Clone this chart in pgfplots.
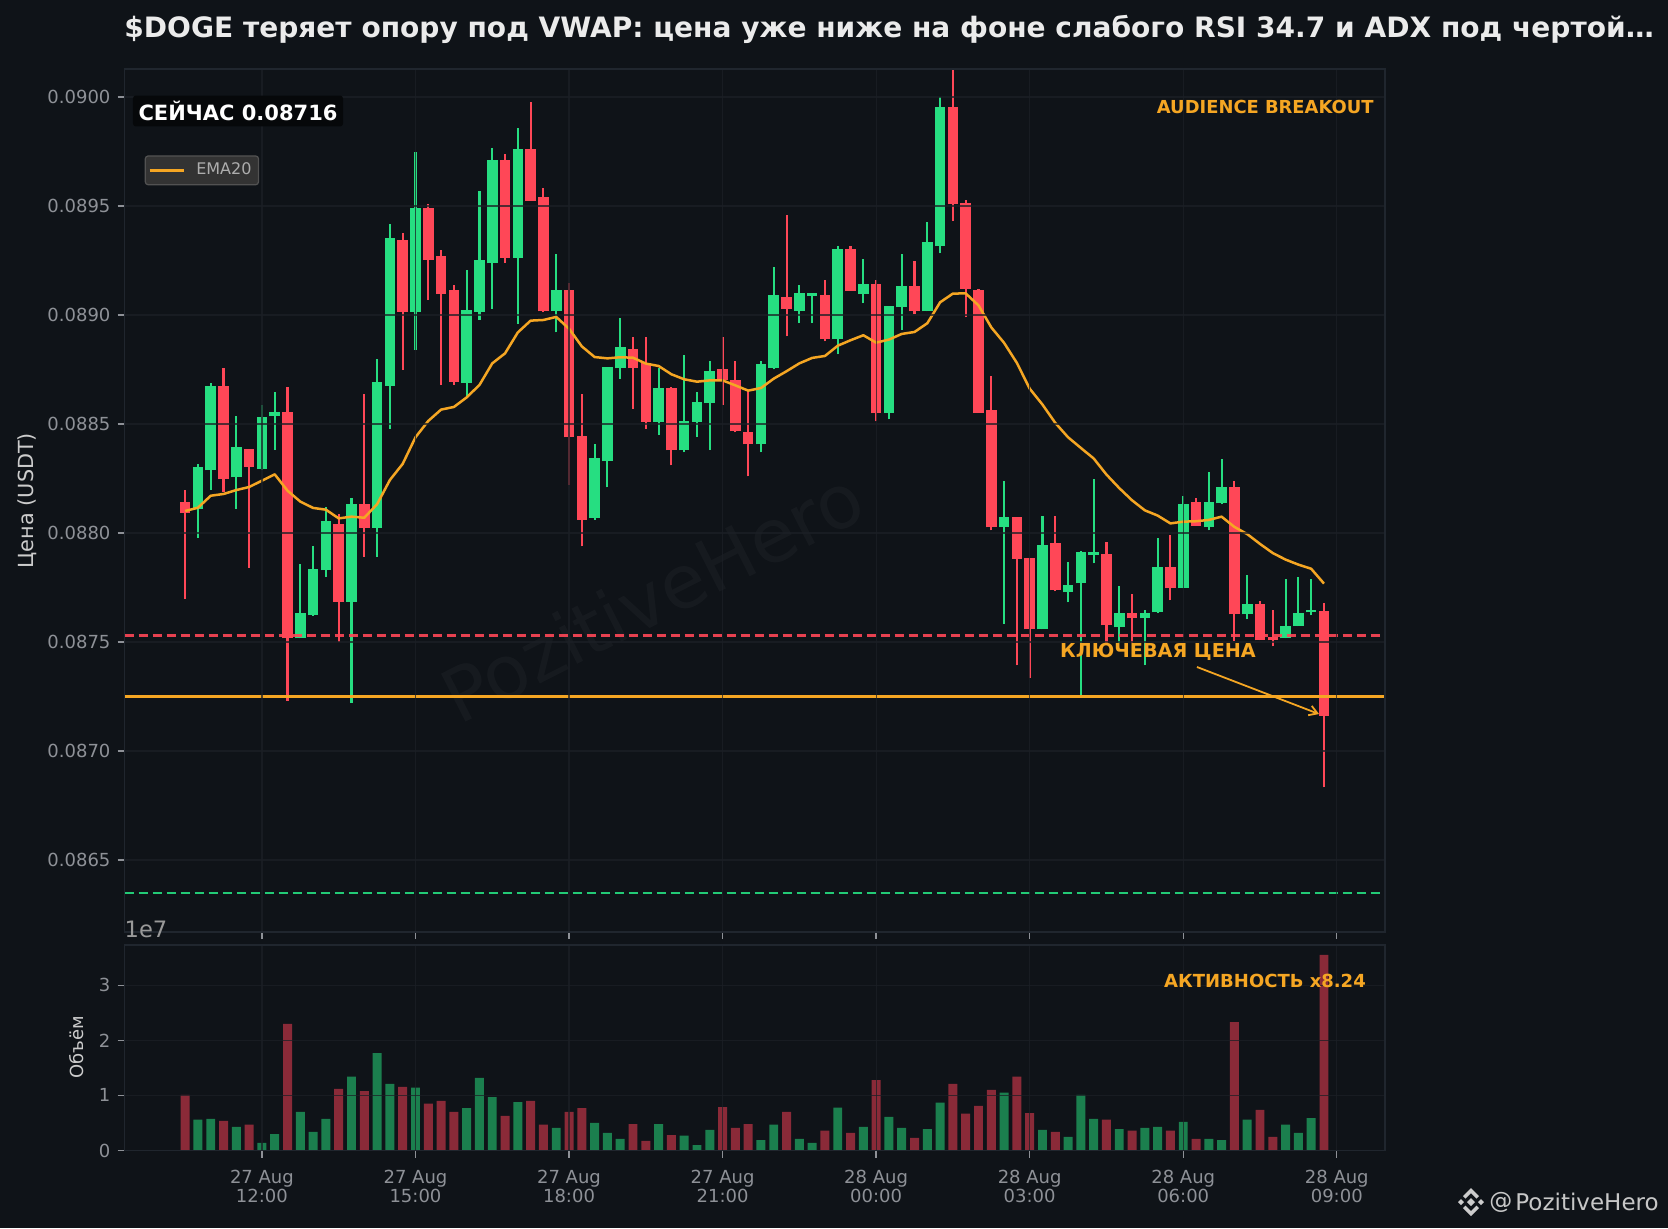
\documentclass[border=0pt]{standalone}
\usepackage{fontspec}
\setmainfont{DejaVu Sans}
\usepackage{pgfplots}
\usepackage{pgfplotstable}
\pgfplotsset{compat=1.18}
\usetikzlibrary{arrows.meta}
\definecolor{bgc}{HTML}{0F1318}
\definecolor{gridc}{HTML}{1C2026}
\definecolor{framec}{HTML}{20262E}
\definecolor{tickc}{HTML}{8E9197}
\definecolor{upc}{HTML}{26DE81}
\definecolor{dnc}{HTML}{FF4757}
\definecolor{orc}{HTML}{F5A623}
\definecolor{upv}{HTML}{1B7F4E}
\definecolor{dnv}{HTML}{8A2A38}
\pgfplotstableread{
i top bot high low v
1 0.088301 0.088109 0.088317 0.087979 0.56
2 0.088673 0.088287 0.088687 0.088197 0.575
4 0.088393 0.088255 0.088535 0.088112 0.43
6 0.088531 0.088294 0.088586 0.088290 0.14
7 0.088554 0.088535 0.088645 0.088382 0.30
9 0.087632 0.087517 0.087856 0.087517 0.70
10 0.087833 0.087625 0.087939 0.087621 0.34
11 0.088054 0.087829 0.088118 0.087798 0.575
13 0.088132 0.087685 0.088159 0.087222 1.34
15 0.088691 0.088024 0.088797 0.087891 1.77
16 0.089352 0.088676 0.089417 0.088477 1.21
18 0.089489 0.089015 0.089746 0.088841 1.14
22 0.089021 0.088687 0.089205 0.088625 0.77
23 0.089251 0.089015 0.089567 0.088977 1.32
24 0.089709 0.089237 0.089765 0.089028 0.97
26 0.089760 0.089263 0.089856 0.088959 0.88
29 0.089115 0.089017 0.089280 0.088920 0.41
32 0.088344 0.088069 0.088408 0.088061 0.50
33 0.088761 0.088329 0.088761 0.088209 0.32
34 0.088853 0.088755 0.088986 0.088708 0.21
37 0.088665 0.088508 0.088757 0.088451 0.48
39 0.088514 0.088379 0.088817 0.088370 0.27
40 0.088601 0.088508 0.088647 0.088442 0.10
41 0.088743 0.088595 0.088789 0.088382 0.375
45 0.088775 0.088407 0.088789 0.088370 0.19
46 0.089092 0.088755 0.089220 0.088751 0.47
48 0.089101 0.089018 0.089138 0.088962 0.21
49 0.089101 0.089086 0.089101 0.088962 0.14
51 0.089303 0.088888 0.089316 0.088820 0.78
53 0.089142 0.089095 0.089257 0.089054 0.43
55 0.089040 0.088549 0.089040 0.088521 0.61
56 0.089133 0.089035 0.089280 0.088930 0.41
58 0.089335 0.089017 0.089427 0.089017 0.39
59 0.089954 0.089315 0.090000 0.089283 0.87
64 0.088073 0.088026 0.088239 0.087583 1.05
67 0.087945 0.087558 0.088078 0.087558 0.375
69 0.087760 0.087728 0.087867 0.087682 0.25
70 0.087913 0.087769 0.087916 0.087248 1.01
71 0.087913 0.087899 0.088248 0.087861 0.575
73 0.087633 0.087567 0.087757 0.087495 0.39
75 0.087633 0.087609 0.087647 0.087393 0.41
76 0.087844 0.087636 0.087977 0.087632 0.43
78 0.088133 0.087746 0.088170 0.087746 0.52
80 0.088142 0.088026 0.088280 0.088012 0.21
81 0.088211 0.088136 0.088339 0.088131 0.19
83 0.087674 0.087627 0.087807 0.087604 0.56
86 0.087573 0.087517 0.087789 0.087517 0.47
87 0.087633 0.087575 0.087798 0.087572 0.32
88 0.087647 0.087636 0.087789 0.087622 0.59
}\uptable
\pgfplotstableread{
i top bot high low v
0 0.088141 0.088093 0.088197 0.087699 1.01
3 0.088673 0.088246 0.088755 0.088188 0.54
5 0.088384 0.088304 0.088384 0.087841 0.47
8 0.088554 0.087517 0.088668 0.087231 2.30
12 0.088040 0.087685 0.088086 0.087502 1.12
14 0.088132 0.088024 0.088636 0.087891 1.08
17 0.089342 0.089015 0.089375 0.088748 1.155
19 0.089489 0.089254 0.089508 0.089069 0.85
20 0.089269 0.089095 0.089297 0.088679 0.90
21 0.089113 0.088694 0.089136 0.088679 0.70
25 0.089709 0.089263 0.089737 0.089240 0.63
27 0.089760 0.089524 0.089978 0.089524 0.90
28 0.089539 0.089017 0.089583 0.089012 0.47
30 0.089115 0.088439 0.089147 0.088222 0.70
31 0.088445 0.088061 0.088638 0.087939 0.77
35 0.088844 0.088755 0.088899 0.088570 0.48
36 0.088780 0.088508 0.088899 0.088479 0.175
38 0.088665 0.088379 0.088670 0.088310 0.28
42 0.088752 0.088702 0.088899 0.088589 0.79
43 0.088702 0.088466 0.088789 0.088462 0.41
44 0.088463 0.088407 0.088658 0.088260 0.48
47 0.089083 0.089026 0.089459 0.088902 0.70
50 0.089092 0.088888 0.089161 0.088879 0.36
52 0.089303 0.089109 0.089316 0.089109 0.32
54 0.089142 0.088549 0.089161 0.088512 1.28
57 0.089133 0.089017 0.089248 0.089003 0.23
60 0.089954 0.089508 0.090126 0.089430 1.21
61 0.089512 0.089118 0.089527 0.088989 0.67
62 0.089115 0.088550 0.089119 0.088550 0.81
63 0.088564 0.088026 0.088720 0.088012 1.10
65 0.088073 0.087881 0.088073 0.087393 1.34
66 0.087885 0.087558 0.087885 0.087333 0.68
68 0.087954 0.087737 0.088078 0.087732 0.34
72 0.087904 0.087576 0.087959 0.087495 0.56
74 0.087633 0.087609 0.087720 0.087495 0.36
77 0.087844 0.087746 0.087991 0.087691 0.36
79 0.088142 0.088034 0.088161 0.088031 0.21
82 0.088211 0.087627 0.088239 0.087503 2.33
84 0.087674 0.087508 0.087687 0.087508 0.74
85 0.087523 0.087508 0.087647 0.087480 0.25
89 0.087642 0.087161 0.087679 0.086833 3.55
}\dntable
\pgfplotstableread{
i e
0 0.088101
1 0.088116
2 0.088171
3 0.088179
4 0.088197
5 0.088211
6 0.088240
7 0.088269
8 0.088194
9 0.088144
10 0.088115
11 0.088107
12 0.088067
13 0.088075
14 0.088070
15 0.088132
16 0.088243
17 0.088317
18 0.088439
19 0.088514
20 0.088566
21 0.088578
22 0.088622
23 0.088679
24 0.088778
25 0.088824
26 0.088920
27 0.088974
28 0.088977
29 0.088991
30 0.088937
31 0.088856
32 0.088807
33 0.088801
34 0.088806
35 0.088804
36 0.088777
37 0.088766
38 0.088728
39 0.088705
40 0.088694
41 0.088700
42 0.088700
43 0.088677
44 0.088653
45 0.088665
46 0.088708
47 0.088742
48 0.088778
49 0.088803
50 0.088812
51 0.088859
52 0.088884
53 0.088907
54 0.088873
55 0.088887
56 0.088913
57 0.088922
58 0.088962
59 0.089058
60 0.089098
61 0.089099
62 0.089044
63 0.088943
64 0.088872
65 0.088780
66 0.088662
67 0.088589
68 0.088505
69 0.088439
70 0.088390
71 0.088342
72 0.088268
73 0.088206
74 0.088150
75 0.088104
76 0.088080
77 0.088044
78 0.088052
79 0.088054
80 0.088060
81 0.088075
82 0.088028
83 0.087995
84 0.087950
85 0.087908
86 0.087878
87 0.087855
88 0.087836
89 0.087768
}\ematable
\newcommand{\fs}[1]{\fontsize{#1}{#1}\selectfont}
\pgfplotsset{common/.style={
  scale only axis, width=630.25pt, xmin=-4.74, xmax=93.77,
  axis on top, axis line style={color=framec, line width=0.8pt},
  grid=major, grid style={color=gridc, line width=0.6pt, opacity=0.75},
  tick align=outside, xtick pos=bottom, ytick pos=left,
  tick style={color=tickc, line width=0.7pt}, major tick length=3.5pt,
  tick label style={font=\fontsize{9}{9.5}\selectfont, text=tickc},
  /pgf/number format/assume math mode=true,
  xtick={6,18,30,42,54,66,78,90},
  clip mode=individual,
}}
\begin{document}
\begin{tikzpicture}[x=0.5pt,y=-0.5pt]
\useasboundingbox (0,0) rectangle (1668,1228);
\fill[bgc] (0,0) rectangle (1668,1228);
\node[rotate=27, text=white, opacity=0.03, font=\fs{37}] at (652,596) {PozitiveHero};
\begin{axis}[common, at={(62.25pt,-466pt)}, anchor=south west, height=431.5pt,
  ymin=0.08617, ymax=0.090128,
  ytick={0.0865,0.0870,0.0875,0.0880,0.0885,0.0890,0.0895,0.0900},
  scaled y ticks=false,
  yticklabel style={/pgf/number format/fixed, /pgf/number format/fixed zerofill, /pgf/number format/precision=4},
  xticklabels={},
  ylabel={Цена (USDT)}, ylabel style={font=\fs{10.4}, text=white!80!black, at={(axis description cs:0,0.5)}, anchor=south, yshift=40.5pt},
  legend style={at={(0.016,0.9)}, anchor=north west, fill=white!20!black, draw=white!32!black, rounded corners=1.5pt, line width=0.6pt, font=\fs{8}, text=white!68!black, inner sep=1.5pt, row sep=0pt, /tikz/every odd column/.append style={column sep=3.7pt}},
  legend cell align=left]
\addplot[forget plot, draw=none, mark=none, error bars/.cd, y dir=plus, y explicit, error mark=none, error bar style={upc, solid, line width=1.05pt}] table[x=i, y=low, y error expr=\thisrow{high}-\thisrow{low}] {\uptable};
\addplot[forget plot, draw=none, mark=none, error bars/.cd, y dir=plus, y explicit, error mark=none, error bar style={dnc, solid, line width=1.05pt}] table[x=i, y=low, y error expr=\thisrow{high}-\thisrow{low}] {\dntable};
\addplot[forget plot, draw=none, mark=none, error bars/.cd, y dir=plus, y explicit, error mark=none, error bar style={upc, solid, line width=5.3pt}] table[x=i, y=bot, y error expr=\thisrow{top}-\thisrow{bot}] {\uptable};
\addplot[forget plot, draw=none, mark=none, error bars/.cd, y dir=plus, y explicit, error mark=none, error bar style={dnc, solid, line width=5.3pt}] table[x=i, y=bot, y error expr=\thisrow{top}-\thisrow{bot}] {\dntable};
\addplot[forget plot, dnc, opacity=0.9, line width=1.15pt, dash pattern=on 4.7pt off 2.3pt] coordinates {(-4.74,0.08753)(93.77,0.08753)};
\addplot[forget plot, orc, line width=1.4pt] coordinates {(-4.74,0.08725)(93.77,0.08725)};
\addplot[forget plot, upc, opacity=0.9, line width=1pt, dash pattern=on 4.7pt off 2.3pt] coordinates {(-4.74,0.08635)(93.77,0.08635)};
\addplot[orc, line width=1.25pt, line join=round] table[x=i, y=e] {\ematable};
\addlegendentry{EMA20}
\end{axis}
\begin{axis}[common, at={(62.25pt,-575.25pt)}, anchor=south west, height=102.9pt,
  ymin=0, ymax=3.735, ytick={0,1,2,3},
  xticklabels={{27 Aug\\12:00},{27 Aug\\15:00},{27 Aug\\18:00},{27 Aug\\21:00},{28 Aug\\00:00},{28 Aug\\03:00},{28 Aug\\06:00},{28 Aug\\09:00}},
  xticklabel style={align=center, yshift=-2.7pt},
  ylabel={Объём}, ylabel style={font=\fs{9}, text=white!80!black, at={(axis description cs:0,0.5)}, anchor=south, yshift=17pt}]
\addplot[ybar, bar width=0.7, bar shift=0pt, fill=upv, draw=none] table[x=i, y=v] {\uptable};
\addplot[ybar, bar width=0.7, bar shift=0pt, fill=dnv, draw=none] table[x=i, y=v] {\dntable};
\end{axis}
% annotations (page pixels)
\node[font=\bfseries\fs{14.03}, text=white!92!black, anchor=west, inner sep=0] at (124,29) {\$DOGE теряет опору под VWAP: цена уже ниже на фоне слабого RSI 34.7 и ADX под чертой…};
\node[font=\bfseries\fs{10.5}, text=white, fill=black!60!bgc, rounded corners=1.5pt, inner sep=2.8pt] at (238,111) {СЕЙЧАС 0.08716};
\node[font=\bfseries\fs{8.95}, text=orc, anchor=east, inner sep=0] at (1374,107) {AUDIENCE BREAKOUT};
\node[font=\bfseries\fs{9}, text=orc, anchor=center, inner sep=0] at (1265,981) {АКТИВНОСТЬ x8.24};
\node[font=\bfseries\fs{9.6}, text=orc, anchor=center, inner sep=0] at (1158,652) {КЛЮЧЕВАЯ ЦЕНА};
\draw[orc, line width=0.9pt, -{Straight Barb[length=4pt,width=5pt]}] (1197,667) -- (1319,714);
\node[font=\fs{11.3}, text=white!60!black, anchor=center, inner sep=0] at (146,929) {1e7};
\node[font=\fs{11.5}, text=white!78!black, anchor=west, inner sep=0] at (1489,1202) {@};
\node[font=\fs{11.5}, text=white!78!black, anchor=west, inner sep=0] at (1515,1202) {PozitiveHero};
\begin{scope}[shift={(1471,1202)}, white!80!black]
\fill (0,-4) -- (4,0) -- (0,4) -- (-4,0) -- cycle;
\fill (-13,0) -- (-10,-3) -- (-7,0) -- (-10,3) -- cycle;
\fill (13,0) -- (10,-3) -- (7,0) -- (10,3) -- cycle;
\fill (0,-14) -- (8,-6) -- (5.5,-3.5) -- (0,-9) -- (-5.5,-3.5) -- (-8,-6) -- cycle;
\fill (0,14) -- (8,6) -- (5.5,3.5) -- (0,9) -- (-5.5,3.5) -- (-8,6) -- cycle;
\end{scope}
\end{tikzpicture}
\end{document}
